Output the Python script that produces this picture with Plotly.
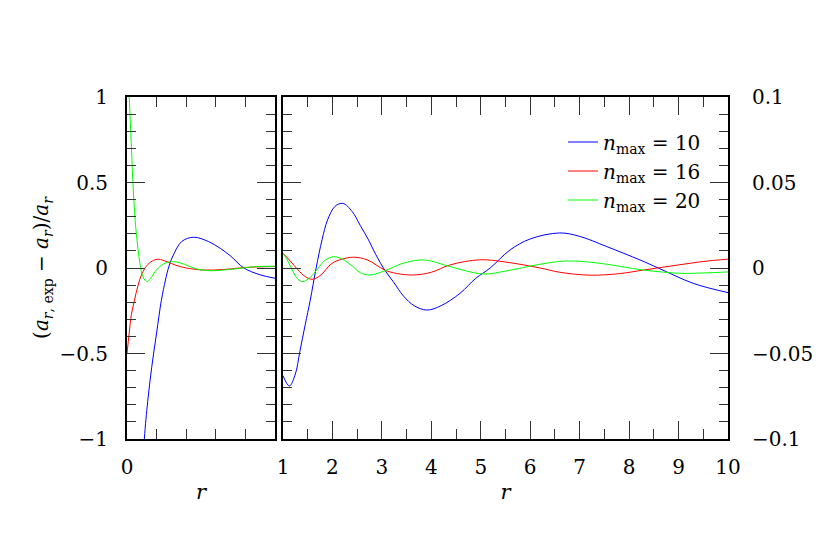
import plotly.graph_objects as go

# ---------------- data ----------------
series_names = ["<i>n</i><sub>max</sub> = 10", "<i>n</i><sub>max</sub> = 16", "<i>n</i><sub>max</sub> = 20"]
series_colors = ["#0000ff", "#ff0000", "#00ff00"]

# left panel, r in [0, 1]
r_left_n10 = [0.0, 0.05, 0.08, 0.117, 0.14, 0.167, 0.2, 0.232, 0.26, 0.28, 0.31, 0.37, 0.45,
              0.55, 0.63, 0.7, 0.79, 0.9, 1.0]
err_left_n10 = [-3.8, -2.2, -1.55, -1.0, -0.78, -0.58, -0.38, -0.19, -0.07, 0.0, 0.07, 0.155, 0.18,
                0.155, 0.115, 0.07, 0.0, -0.04, -0.06]

r_left_n16 = [0.0, 0.015, 0.03, 0.05, 0.075, 0.1, 0.14, 0.18, 0.214, 0.27, 0.33, 0.40, 0.52,
              0.65, 0.8, 1.0]
err_left_n16 = [-0.5, -0.38, -0.27, -0.19, -0.1, -0.035, 0.02, 0.045, 0.051, 0.037, 0.016, 0.0, -0.012,
                -0.009, 0.003, 0.009]

r_left_n20 = [0.0, 0.015, 0.03, 0.04, 0.055, 0.068, 0.085, 0.1, 0.12, 0.135, 0.16, 0.2, 0.25,
              0.30, 0.36, 0.42, 0.48, 0.57, 0.7, 0.87, 1.0]
err_left_n20 = [1.25, 1.0, 0.7, 0.5, 0.28, 0.16, 0.04, -0.03, -0.07, -0.08, -0.06, -0.01, 0.025,
                0.037, 0.03, 0.01, -0.008, -0.016, -0.008, 0.008, 0.01]

# right panel, r in [1, 10]
r_right_n10 = [1.0, 1.13, 1.25, 1.34, 1.45, 1.55, 1.67, 1.79, 1.9, 2.05, 2.21, 2.4, 2.56, 2.73,
               2.83, 3.03, 3.23, 3.44, 3.65, 3.91, 4.2, 4.58, 4.9, 5.19, 5.59, 6.0, 6.6, 7.0,
               7.55, 8.22, 8.59, 9.3, 10.0]
err_right_n10 = [-0.063, -0.069, -0.062, -0.049, -0.033, -0.019, 0.0, 0.0165, 0.028, 0.036, 0.0378,
                 0.033, 0.025, 0.0164, 0.0105, 0.0, -0.008, -0.0165, -0.022, -0.0246, -0.022,
                 -0.0148, -0.006, 0.0, 0.0105, 0.017, 0.0205, 0.0185, 0.0125, 0.0047, 0.0,
                 -0.009, -0.0144]

r_right_n16 = [1.0, 1.15, 1.3, 1.45, 1.59, 1.75, 1.99, 2.2, 2.43, 2.7, 3.06, 3.3, 3.64, 4.0, 4.38,
               4.98, 5.5, 6.2, 6.6, 7.21, 7.8, 8.29, 9.0, 9.5, 10.0]
err_right_n16 = [0.0086, 0.004, -0.001, -0.005, -0.0066, -0.0045, 0.0027, 0.0052, 0.0063, 0.0048,
                 -0.0012, -0.0032, -0.0041, -0.0025, 0.0018, 0.0048, 0.0035, 0.0, -0.0025,
                 -0.0042, -0.0033, -0.0012, 0.0018, 0.0038, 0.0052]

r_right_n20 = [1.0, 1.1, 1.2, 1.3, 1.4, 1.55, 1.7, 1.85, 2.02, 2.2, 2.4, 2.56, 2.76, 3.06, 3.4,
               3.77, 4.0, 4.38, 5.05, 5.5, 6.2, 6.74, 7.4, 8.29, 9.03, 9.5, 10.0]
err_right_n20 = [0.0086, 0.004, -0.002, -0.0065, -0.008, -0.0055, -0.0005, 0.0045, 0.0066, 0.0052,
                 0.0012, -0.0027, -0.0041, -0.0016, 0.0025, 0.0047, 0.004, 0.0008, -0.0035,
                 -0.0018, 0.0022, 0.0041, 0.0028, -0.0012, -0.0031, -0.0029, -0.0023]

left_x = [r_left_n10, r_left_n16, r_left_n20]
left_y = [err_left_n10, err_left_n16, err_left_n20]
right_x = [r_right_n10, r_right_n16, r_right_n20]
right_y = [err_right_n10, err_right_n16, err_right_n20]

left_xticks = [0, 0.2, 0.4, 0.6, 0.8, 1.0]
left_xticktext = ["0", "", "", "", "", ""]

# ---------------- figure ----------------
W, H = 830, 550
FONT = "DejaVu Serif"
FS = 20

fig = go.Figure()
for name, col, xs, ys in zip(series_names, series_colors, left_x, left_y):
    fig.add_trace(go.Scatter(x=xs, y=ys, mode="lines", line=dict(color=col, width=1, shape="spline"),
                             xaxis="x", yaxis="y", showlegend=False, hoverinfo="skip"))
for name, col, xs, ys in zip(series_names, series_colors, right_x, right_y):
    fig.add_trace(go.Scatter(x=xs, y=ys, mode="lines", line=dict(color=col, width=1, shape="spline"),
                             xaxis="x2", yaxis="y2", name=name, showlegend=True))


def px_x(p):
    return p / W


def px_y(p):
    return 1 - p / H


ydom = [px_y(439), px_y(97)]
tickc = "#333333"
tfont = dict(family=FONT, size=FS, color="black")
common = dict(showgrid=False, zeroline=False, showline=True, linecolor="black", linewidth=2,
              mirror="allticks", ticks="inside", tickcolor=tickc, tickwidth=1.2, automargin=False,
              tickfont=tfont)

fig.update_layout(
    width=W, height=H,
    margin=dict(l=0, r=0, t=0, b=0, autoexpand=False),
    paper_bgcolor="white", plot_bgcolor="white",
    font=dict(family=FONT, size=FS, color="black"),
    xaxis=dict(domain=[px_x(127), px_x(275)], range=[0, 1], anchor="y",
               tickmode="array", tickvals=left_xticks, ticktext=left_xticktext, ticklen=10,
               ticklabelstandoff=9,
               title=dict(text="<i>r</i>", standoff=6, font=dict(family=FONT, size=21)), **common),
    yaxis=dict(domain=ydom, range=[-1, 1], anchor="x", tick0=0, dtick=0.5, ticklen=18,
               minor=dict(dtick=0.1, ticklen=9, ticks="inside", tickcolor=tickc, tickwidth=1.2),
               ticklabelstandoff=13,
               title=dict(text="(<i>a</i><sub><i>r</i>, exp</sub> − <i>a</i><sub><i>r</i></sub>)/<i>a</i><sub><i>r</i></sub>",
                          standoff=5, font=dict(family=FONT, size=FS)), **common),
    xaxis2=dict(domain=[px_x(283), px_x(728)], range=[1, 10], anchor="y2", tick0=0, dtick=1,
                ticklen=18, minor=dict(dtick=0.5, ticklen=10, ticks="inside", tickcolor=tickc, tickwidth=1.2),
                ticklabelstandoff=9,
                title=dict(text="<i>r</i>", standoff=6, font=dict(family=FONT, size=21)), **common),
    yaxis2=dict(domain=ydom, range=[-0.1, 0.1], anchor="x2", side="right", tick0=0, dtick=0.05,
                ticklen=18, minor=dict(dtick=0.01, ticklen=9, ticks="inside", tickcolor=tickc, tickwidth=1.2),
                ticklabelstandoff=18, **common),
    legend=dict(x=px_x(706), xanchor="right", y=px_y(171), yanchor="middle",
                bgcolor="rgba(0,0,0,0)", font=dict(family=FONT, size=FS, color="black"),
                tracegroupgap=0),
    showlegend=True,
)

fig.write_html("out.html", config={"displayModeBar": False},
               post_script="document.body.style.margin='0';document.body.style.overflow='hidden';")
